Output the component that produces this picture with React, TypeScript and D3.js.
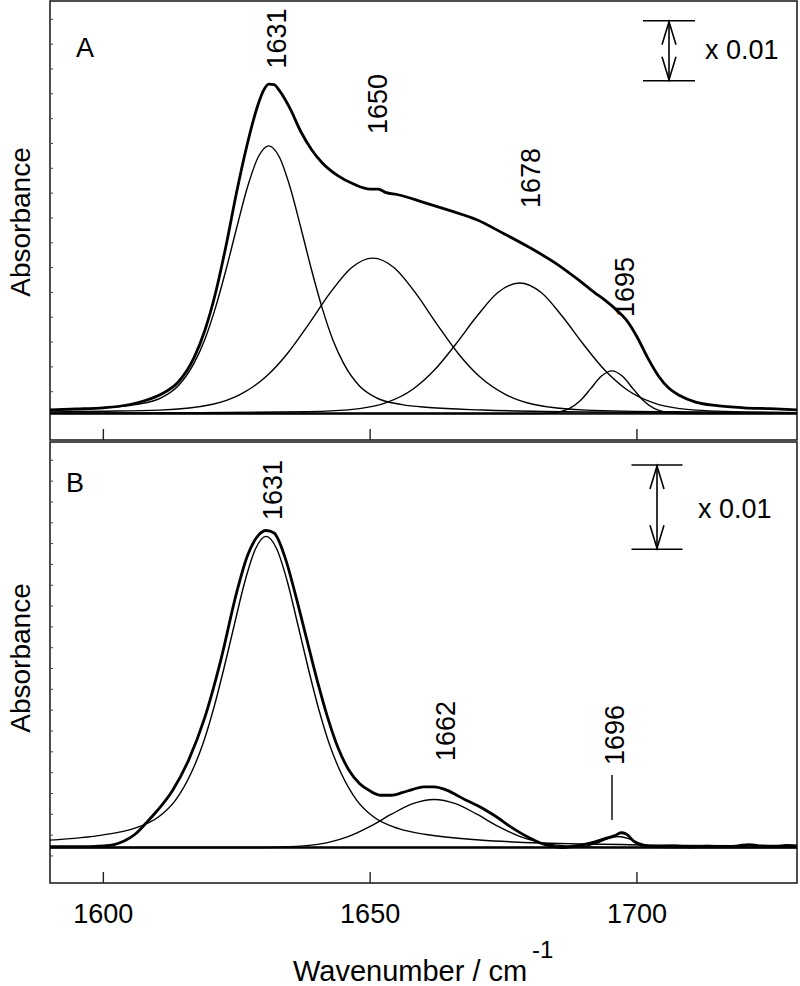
import React from 'react';
import * as d3 from 'd3';

const W = 800;
const H = 986;
const FONT = 'Liberation Sans, Arial, sans-serif';

// x axis (wavenumber, cm-1)
const xDomain: [number, number] = [1590, 1730];
const xTickValues = [1600, 1650, 1700];

// ---------- Panel A (absorbance in mAU) ----------
const aTotal: [number, number][] = [
  [1590, 0.6], [1595, 0.75], [1600, 0.95], [1605, 1.5], [1608, 2.2], [1611, 3.3], [1614, 5.2],
  [1617, 9.3], [1619, 13.8], [1621, 20], [1623, 28], [1625, 37], [1627, 45], [1629, 51.5],
  [1630, 53.8], [1631, 54.9], [1632, 54.8], [1633, 53.8], [1635, 50.8], [1637, 47], [1639, 44],
  [1641, 41.8], [1644, 39.6], [1647, 38.2], [1650, 37.4], [1651.5, 37.4], [1653, 36.8], [1655, 36.5],
  [1660, 35.2], [1665, 33.8], [1670, 32.3], [1675, 30], [1680, 27.6], [1685, 24.9], [1689, 22.3],
  [1692, 20.2], [1694, 18.9], [1696, 17.4], [1698, 15.6], [1700, 12.8], [1702, 9.3], [1704, 6.3],
  [1706, 4.2], [1708, 3.0], [1711, 1.9], [1715, 1.3], [1720, 0.95], [1725, 0.8], [1730, 0.6],
];
const aBand1631: [number, number][] = [
  [1590, 0.57], [1600, 0.95], [1606, 1.47], [1611, 2.7], [1614, 4.6], [1617, 8.4], [1619, 12.3],
  [1621, 17.6], [1623, 24.0], [1625, 31.0], [1627, 37.7], [1629, 42.7], [1631, 44.6], [1633, 42.7],
  [1635, 37.7], [1637, 31.0], [1639, 24.0], [1641, 17.6], [1643, 12.3], [1645, 8.4], [1648, 4.6],
  [1651, 2.7], [1656, 1.47], [1661, 0.99], [1671, 0.58], [1691, 0.26], [1730, 0.1],
];
const aBand1650: [number, number][] = [
  [1590, 0.25], [1600, 0.37], [1610.5, 0.57], [1620.5, 1.55], [1625.5, 3.1], [1630.5, 6.15],
  [1634.5, 10.0], [1638.5, 14.9], [1642.5, 20.1], [1646.5, 24.3], [1650.5, 25.9], [1654.5, 24.3],
  [1658.5, 20.1], [1662.5, 14.9], [1666.5, 10.0], [1670.5, 6.15], [1675.5, 3.1], [1680.5, 1.55],
  [1690.5, 0.57], [1710.5, 0.25], [1730, 0.14],
];
const aBand1678: [number, number][] = [
  [1590, 0.065], [1618, 0.135], [1638, 0.3], [1648, 0.82], [1653, 1.8], [1658, 4.05], [1662, 7.2],
  [1666, 11.5], [1670, 16.2], [1674, 20.2], [1678, 21.75], [1682, 20.2], [1686, 16.2], [1690, 11.5],
  [1694, 7.2], [1698, 4.05], [1703, 1.8], [1708, 0.82], [1718, 0.3], [1730, 0.15],
];
const aBand1695: [number, number][] = [
  [1590, 0], [1681, 0], [1683.3, 0.03], [1685.3, 0.23], [1687.3, 0.8], [1689.3, 2.07], [1691.3, 4.1],
  [1693.3, 6.2], [1695.3, 7.1], [1697.3, 6.2], [1699.3, 4.1], [1701.3, 2.07], [1703.3, 0.8],
  [1705.3, 0.23], [1707.3, 0.03], [1710, 0], [1730, 0],
];

// ---------- Panel B (absorbance in mAU) ----------
const bTotal: [number, number][] = [
  [1590, 0.1], [1595, 0.1], [1600, 0.2], [1602, 0.35], [1604, 0.8], [1606, 1.6], [1608, 2.9],
  [1610, 4.3], [1613, 6.8], [1616, 10.4], [1619, 15.4], [1622, 22.2], [1625, 30.3], [1627, 34.6],
  [1629, 37.0], [1630.5, 37.6], [1632, 37.3], [1634, 34.5], [1636, 30], [1638, 25], [1640, 20],
  [1642, 15.5], [1644, 11.8], [1646, 9.2], [1648, 7.6], [1650, 6.7], [1652, 6.2], [1654, 6.2],
  [1656, 6.5], [1658, 6.9], [1660, 7.2], [1662, 7.2], [1664, 6.9], [1666, 6.3], [1668, 5.6],
  [1670, 5.0], [1672, 4.3], [1674, 3.5], [1676, 2.6], [1678, 1.8], [1680, 1.1], [1682, 0.5],
  [1684, 0.15], [1686, 0.0], [1688, 0.15], [1690, 0.35], [1692, 0.65], [1694, 1.05], [1696, 1.45],
  [1697, 1.75], [1698, 1.6], [1699.5, 0.7], [1701, 0.25], [1704, 0.1], [1707, 0.2], [1710, 0.05],
  [1713, 0.15], [1716, 0.1], [1719, 0.2], [1721, 0.35], [1723, 0.2], [1726, 0.15], [1728, 0.25],
  [1730, 0.2],
];
const bBand1631: [number, number][] = [
  [1590, 0.87], [1600, 1.5], [1605.5, 2.2], [1610.5, 3.7], [1613.5, 5.6], [1616.5, 8.9],
  [1618.5, 12.0], [1620.5, 16.1], [1622.5, 21.0], [1624.5, 26.3], [1626.5, 31.5], [1628.5, 35.4],
  [1630.5, 36.9], [1632.5, 35.4], [1634.5, 31.5], [1636.5, 26.3], [1638.5, 21.0], [1640.5, 16.1],
  [1642.5, 12.0], [1644.5, 8.9], [1647.5, 5.6], [1650.5, 3.7], [1655.5, 2.2], [1660.5, 1.54],
  [1670.5, 0.89], [1690.5, 0.41], [1730, 0.15],
];
const bBand1662: [number, number][] = [
  [1590, 0], [1628, 0], [1632, 0.03], [1637, 0.16], [1642, 0.58], [1646, 1.32], [1650, 2.5],
  [1654, 3.95], [1658, 5.2], [1662, 5.7], [1666, 5.2], [1670, 3.95], [1674, 2.5], [1678, 1.32],
  [1682, 0.58], [1687, 0.16], [1692, 0.03], [1696, 0], [1730, 0],
];
const bBand1696: [number, number][] = [
  [1590, 0], [1686, 0], [1688.5, 0.035], [1690.5, 0.17], [1692.5, 0.53], [1694.5, 1.04],
  [1696.5, 1.3], [1698.5, 1.04], [1700.5, 0.53], [1702.5, 0.17], [1704.5, 0.035], [1707, 0], [1730, 0],
];

// peak labels
const aPeakLabels = ['1631', '1650', '1678', '1695'];
const bPeakLabels = ['1631', '1662', '1696'];

// scale-bar size (mAU) = 0.01 absorbance
const scaleBarSize = 10;

const PANEL_L = 50;
const PANEL_R = 797;

function Panel({
  top, bottom, yDomain, curves, bandCurves, letter, peakLabels, labelPos, barX, barHalf, barBottom,
  barTextPos, leftTicks, showXLabels, absY, leader,
}: any) {
  const x = d3.scaleLinear().domain(xDomain).range([PANEL_L, PANEL_R]);
  const y = d3.scaleLinear().domain(yDomain).range([bottom, top]);
  const line = d3.line<[number, number]>()
    .x((d) => x(d[0]))
    .y((d) => y(d[1]))
    .curve(d3.curveMonotoneX);
  const y0 = y(barBottom);
  const y1 = y(barBottom + scaleBarSize);
  const ah = 24;
  const aw = 7;
  return (
    <g>
      <rect x={PANEL_L} y={top} width={PANEL_R - PANEL_L} height={bottom - top} fill="none" stroke="#222" strokeWidth={1.6} />
      {leftTicks.map((t: number, i: number) => (
        <line key={i} x1={PANEL_L} x2={PANEL_L + 3} y1={y(t)} y2={y(t)} stroke="#444" strokeWidth={1} />
      ))}
      {xTickValues.map((t) => (
        <line key={t} x1={x(t)} x2={x(t)} y1={bottom} y2={bottom - 11} stroke="#222" strokeWidth={1.4} />
      ))}
      {showXLabels && xTickValues.map((t) => (
        <text key={'l' + t} x={x(t)} y={bottom + 40} textAnchor="middle" fontSize={27} fontFamily={FONT} fill="#000">{t}</text>
      ))}
      <path d={line([[xDomain[0], 0], [xDomain[1], 0]]) as string} stroke="#111" strokeWidth={2.6} fill="none" />
      {bandCurves.map((c: [number, number][], i: number) => (
        <path key={'b' + i} d={line(c) as string} stroke="#000" strokeWidth={1.4} fill="none" />
      ))}
      {curves.map((c: [number, number][], i: number) => (
        <path key={'c' + i} d={line(c) as string} stroke="#000" strokeWidth={2.8} fill="none" strokeLinejoin="round" />
      ))}
      <text x={letter.x} y={letter.y} fontSize={27} fontFamily={FONT} fill="#000">{letter.t}</text>
      {peakLabels.map((lab: string, i: number) => (
        <text key={lab + i} transform={`translate(${labelPos[i][0]},${labelPos[i][1]}) rotate(-90)`} textAnchor="middle"
          fontSize={27} fontFamily={FONT} fill="#000">{lab}</text>
      ))}
      {leader && <line x1={leader[0]} x2={leader[0]} y1={leader[1]} y2={leader[2]} stroke="#000" strokeWidth={1.4} />}
      {/* scale bar */}
      <line x1={barX - barHalf} x2={barX + barHalf} y1={y0} y2={y0} stroke="#000" strokeWidth={1.6} />
      <line x1={barX - barHalf} x2={barX + barHalf} y1={y1} y2={y1} stroke="#000" strokeWidth={1.6} />
      <line x1={barX} x2={barX} y1={y0} y2={y1} stroke="#000" strokeWidth={1.6} />
      <polyline points={`${barX - aw},${y1 + ah} ${barX},${y1 + 1} ${barX + aw},${y1 + ah}`} fill="none" stroke="#000" strokeWidth={1.6} />
      <polyline points={`${barX - aw},${y0 - ah} ${barX},${y0 - 1} ${barX + aw},${y0 - ah}`} fill="none" stroke="#000" strokeWidth={1.6} />
      <text x={barTextPos[0]} y={barTextPos[1]} fontSize={27} fontFamily={FONT} fill="#000">x 0.01</text>
      <text transform={`translate(${absY[0]},${absY[1]}) rotate(-90)`} textAnchor="middle" fontSize={28} fontFamily={FONT} fill="#000">Absorbance</text>
    </g>
  );
}

export default function App() {
  const aTicks = d3.range(16).map((k) => 3.63 + 4.138 * k);
  const bTicks = d3.range(20).map((k) => -1.0 + 2.47 * k);
  return (
    <div style={{ position: 'absolute', left: 0, top: 0 }}>
      <svg width={W} height={H} viewBox={`0 0 ${W} ${H}`} style={{ display: 'block', background: '#fff' }}>
        <rect x={0} y={0} width={W} height={H} fill="#fff" />
        <Panel
          top={1} bottom={440} yDomain={[-4.417, 68.75]}
          curves={[aTotal]} bandCurves={[aBand1631, aBand1650, aBand1678, aBand1695]}
          letter={{ x: 76, y: 57, t: 'A' }}
          peakLabels={aPeakLabels}
          labelPos={[[286, 38.5], [387, 104], [540, 178], [634, 287]]}
          barX={669} barHalf={26} barBottom={55.47}
          barTextPos={[705, 59]}
          leftTicks={aTicks}
          showXLabels={false}
          absY={[30, 222]}
        />
        <Panel
          top={442} bottom={883} yDomain={[-4.21, 48.1]}
          curves={[bTotal]} bandCurves={[bBand1631, bBand1662, bBand1696]}
          letter={{ x: 66, y: 492, t: 'B' }}
          peakLabels={bPeakLabels}
          labelPos={[[282, 490], [455, 731], [624, 735]]}
          barX={657} barHalf={25.5} barBottom={35.37}
          barTextPos={[698, 518]}
          leftTicks={bTicks}
          showXLabels={true}
          absY={[30, 658]}
          leader={[612, 775, 820]}
        />
        <text x={293} y={981} fontSize={29} fontFamily={FONT} fill="#000">Wavenumber / cm</text>
        <text x={532} y={958} fontSize={24} fontFamily={FONT} fill="#000">-1</text>
      </svg>
    </div>
  );
}
